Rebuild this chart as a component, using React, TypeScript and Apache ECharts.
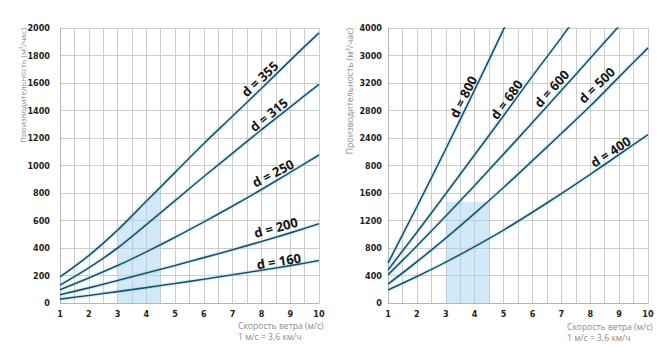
import React, { useEffect, useRef } from "react";
import * as echarts from "echarts";

// Wind speed (m/s)
const windSpeed = [1, 2, 3, 4, 5, 6, 7, 8, 9, 10];

// Left chart: capacity (m³/h) for duct diameters
const leftD355 = [190, 345, 530, 740, 950, 1160, 1360, 1560, 1765, 1965];
const leftD315 = [130, 255, 400, 570, 745, 920, 1090, 1260, 1425, 1590];
const leftD250 = [97, 182, 272, 372, 478, 590, 705, 825, 950, 1076];
const leftD200 = [60, 110, 163, 218, 273, 330, 388, 447, 510, 576];
const leftD160 = [28, 55, 83, 112, 142, 173, 205, 238, 272, 309];

// Right chart
const rightD800 = [580, 1400, 2240, 3100, 3980, 4870];
const rightD680 = [480, 1030, 1590, 2155, 2725, 3300, 3860, 4440];
const rightD600 = [410, 830, 1265, 1710, 2165, 2625, 3090, 3560, 4030];
const rightD500 = [275, 600, 945, 1305, 1680, 2070, 2465, 2865, 3290, 3710];
const rightD400 = [189, 385, 595, 820, 1060, 1320, 1590, 1870, 2160, 2450];

// Shaded zones (typical wind 3–4.5 m/s)
const leftShadeX = [3, 3.5, 4, 4.35, 4.5];
const leftShadeTop = [530, 635, 740, 820, 820];
const rightShadeX = [3, 4.5];
const rightShadeTop = [1470, 1470];

// Tick labels
const xTickLabels = ["1", "2", "3", "4", "5", "6", "7", "8", "9", "10"];
const leftYTickLabels = ["0", "200", "400", "600", "800", "1000", "1200", "1400", "1600", "1800", "2000"];
const rightYTickLabels = ["0", "400", "800", "1200", "1600", "800", "2400", "2800", "3200", "3000", "4000"];

const leftNames = ["d = 355", "d = 315", "d = 250", "d = 200", "d = 160"];
const rightNames = ["d = 800", "d = 680", "d = 600", "d = 500", "d = 400"];

const yName = "Производительность (м³/час)";
const xName1 = "Скорость ветра (м/с)";
const xName2 = "1 м/с = 3,6 км/ч";

const LINE = "#1d4d62";
const GRID = "#cdcdcd";
const SHADE = "rgba(170, 212, 240, 0.5)";

function pairs(xs: number[], ys: number[]) {
  return ys.map((y, i) => [xs[i], y]);
}

export default function App() {
  const ref = useRef<HTMLDivElement>(null);
  useEffect(() => {
    if (!ref.current) return;
    const chart = echarts.init(ref.current, null, { renderer: "svg" });

    const tickFont = {
      fontFamily: "'DejaVu Sans Condensed'",
      fontWeight: "bold" as const,
      fontSize: 9,
      color: "#1e1e1e",
    };

    const xAxisBase = (gridIndex: number) => ({
      type: "value" as const,
      gridIndex,
      min: 1,
      max: 10,
      interval: 0.5,
      axisLine: { show: true, lineStyle: { color: "#b5b5b5" } },
      axisTick: { show: false },
      splitLine: { show: true, lineStyle: { color: GRID, width: 1 } },
      axisLabel: {
        ...tickFont,
        margin: 6,
        formatter: (v: number) => (Number.isInteger(v) ? xTickLabels[v - 1] : ""),
      },
    });

    const curveLabel = (name: string, coord: number[], rotate: number) => ({
      symbol: "rect",
      symbolSize: 1,
      itemStyle: { color: "rgba(0,0,0,0)" },
      silent: true,
      label: {
        show: true,
        position: "inside",
        formatter: name,
        rotate,
        color: "#151515",
        fontFamily: "'Noto Sans', sans-serif",
        fontWeight: "bold",
        fontSize: 13,
      },
      data: [{ coord }],
    });

    const lineSeries = (
      gridIdx: number,
      data: number[],
      name: string,
      coord: number[],
      rotate: number
    ) => ({
      type: "line" as const,
      xAxisIndex: gridIdx,
      yAxisIndex: gridIdx,
      data: pairs(windSpeed, data),
      smooth: 0.3,
      symbol: "none",
      clip: true,
      lineStyle: {
        color: LINE,
        width: 1.6,
        shadowColor: "rgba(120, 200, 230, 0.9)",
        shadowBlur: 2,
      },
      z: 3,
      markPoint: curveLabel(name, coord, rotate),
    });

    const shadeSeries = (gridIdx: number, xs: number[], ys: number[]) => ({
      type: "line" as const,
      xAxisIndex: gridIdx,
      yAxisIndex: gridIdx,
      data: pairs(xs, ys),
      symbol: "none",
      lineStyle: { width: 0, opacity: 0 },
      areaStyle: { color: SHADE, opacity: 1 },
      z: 1,
      silent: true,
    });

    const option: any = {
      animation: false,
      backgroundColor: "#ffffff",
      grid: [
        { left: 60, top: 28, width: 259, height: 275 },
        { left: 388, top: 28, width: 260, height: 275 },
      ],
      xAxis: [xAxisBase(0), xAxisBase(1)],
      yAxis: [
        {
          type: "value",
          gridIndex: 0,
          min: 0,
          max: 2000,
          interval: 200,
          axisLine: { show: true, lineStyle: { color: "#b5b5b5" } },
          axisTick: { show: false },
          splitLine: { show: true, lineStyle: { color: GRID, width: 1 } },
          axisLabel: {
            ...tickFont,
            margin: 10,
            formatter: (v: number) => leftYTickLabels[Math.round(v / 200)],
          },
        },
        {
          type: "value",
          gridIndex: 1,
          min: 0,
          max: 4000,
          interval: 400,
          axisLine: { show: true, lineStyle: { color: "#b5b5b5" } },
          axisTick: { show: false },
          splitLine: { show: true, lineStyle: { color: GRID, width: 1 } },
          axisLabel: {
            ...tickFont,
            margin: 6,
            formatter: (v: number) => rightYTickLabels[Math.round(v / 400)],
          },
        },
      ],
      series: [
        shadeSeries(0, leftShadeX, leftShadeTop),
        shadeSeries(1, rightShadeX, rightShadeTop),
        lineSeries(0, leftD355, leftNames[0], [7.94, 1630], 43),
        lineSeries(0, leftD315, leftNames[1], [8.25, 1370], 39),
        lineSeries(0, leftD250, leftNames[2], [8.4, 945], 27),
        lineSeries(0, leftD200, leftNames[3], [8.5, 550], 15),
        lineSeries(0, leftD160, leftNames[4], [8.6, 305], 9),
        lineSeries(1, rightD800, rightNames[0], [3.6, 3000], 63),
        lineSeries(1, rightD680, rightNames[1], [5.1, 2960], 54),
        lineSeries(1, rightD600, rightNames[2], [6.66, 3120], 48),
        lineSeries(1, rightD500, rightNames[3], [8.22, 3170], 44),
        lineSeries(1, rightD400, rightNames[4], [8.7, 2200], 33),
      ],
      graphic: [
        {
          type: "text",
          x: 22,
          y: 28,
          rotation: Math.PI / 2,
          style: {
            text: yName,
            fill: "#8c8c8c",
            font: "8px 'Open Sans', sans-serif",
            align: "right",
            verticalAlign: "middle",
            textAlign: "right",
            textVerticalAlign: "middle",
          },
        },
        {
          type: "text",
          x: 350,
          y: 28,
          rotation: Math.PI / 2,
          style: {
            text: yName,
            fill: "#8c8c8c",
            font: "8.8px 'Open Sans', sans-serif",
            align: "right",
            verticalAlign: "middle",
            textAlign: "right",
            textVerticalAlign: "middle",
          },
        },
        ...[
          [238, 326, xName1],
          [238, 337, xName2],
          [567, 327, xName1],
          [567, 338, xName2],
        ].map(([x, y, t]) => ({
          type: "text",
          x,
          y,
          style: {
            text: t,
            fill: "#8c8c8c",
            font: "8.6px 'Open Sans', sans-serif",
            align: "left",
            verticalAlign: "middle",
            textAlign: "left",
            textVerticalAlign: "middle",
          },
        })),
      ],
    };

    chart.setOption(option);
    return () => chart.dispose();
  }, []);

  return (
    <div
      ref={ref}
      style={{
        position: "fixed",
        left: 0,
        top: 0,
        width: 670,
        height: 362,
        background: "#fff",
      }}
    />
  );
}
